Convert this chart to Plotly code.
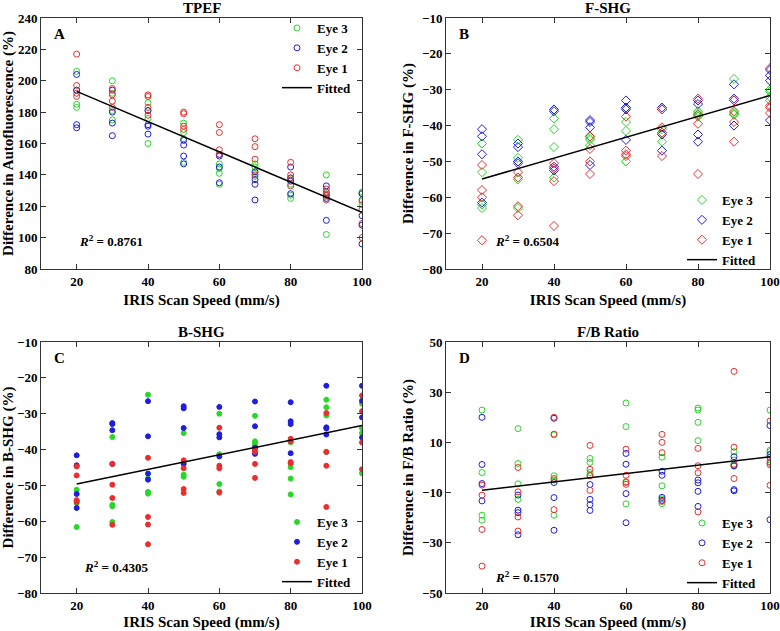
import plotly.graph_objects as go

speeds = [20, 30, 40, 50, 60, 70, 80, 90, 100]

# ---- Panel A: TPEF (values per speed, 4 per eye)
tpef_eye1 = [[217,197,192,190],[195,191,187,183],[191,190,183,178],[180,179,171,169],[172,167,156,153],
             [163,158,150,140],[148,140,133,138],[131,129,124,127],[124,118,109,100]]
tpef_eye2 = [[204,194,172,170],[194,180,173,165],[181,172,171,166],[162,159,152,147],[153,145,135,152],
             [137,134,124,142],[145,138,136,128],[133,127,111,125],[114,108,96,128]]
tpef_eye3 = [[206,185,183,194],[200,181,175,192],[186,160,181,176],[173,167,148,163],[147,141,134,144],
             [147,139,145,141],[127,125,137,134],[140,102,128,126],[129,128,121,123]]
tpef_fit = [193.2, 116.1]

# ---- Panel B: F-SHG
fshg_eye1 = [[-51,-58,-60,-72],[-53,-54.5,-62.5,-65],[-50.5,-52,-55.5,-68],[-43,-46.5,-50,-53.5],[-37.5,-47,-48,-48.5],
             [-35.5,-40.5,-42,-48.5],[-32.5,-37,-39.5,-53.5],[-33,-36,-39,-44.5],[-24,-34.5,-35,-36.5]]
fshg_eye2 = [[-41,-43,-48,-61.5],[-45,-46,-50,-50.5],[-35.5,-36,-51.5,-52.5],[-38.5,-39,-40.5,-51],[-33,-35,-44,-35.5],
             [-35,-35.5,-42.5,-47],[-33,-34,-42.5,-44.5],[-28.5,-32.5,-40,-33],[-24.5,-26,-27.5,-38.5]]
fshg_eye3 = [[-45,-53,-62,-63],[-44,-49,-55,-63],[-38,-41,-46,-54.5],[-43,-45.5,-44,-43.5],[-35,-39,-41.5,-50],
             [-35.5,-44.5,-41,-42],[-36,-36.5,-37,-37.5],[-27,-36.5,-37,-36.8],[-30,-32,-30.5,-33]]
fshg_fit = [-54.9, -31.6]

# ---- Panel C: B-SHG
bshg_eye1 = [[-44.7,-47.2,-54.1,-54.6],[-44,-49.8,-53.5,-61],[-42.3,-58.8,-60.9,-66.4],[-43,-45.2,-51,-52.1],[-33.9,-44.5,-45.2,-52],
             [-40,-40.6,-44,-47.9],[-37,-37.7,-43.5,-43.8],[-29.8,-40.7,-44.5,-56],[-24.9,-29.3,-38,-45.5]]
bshg_eye2 = [[-41.6,-44.4,-52.4,-56.3],[-32.6,-32.9,-34.6,-44],[-26.5,-36.3,-46.7,-48.4],[-27.9,-28.5,-34,-44],[-28.1,-35.7,-36.6,-41.9],
             [-26.6,-33.5,-41.2,-39.5],[-26.8,-32.1,-32.9,-41],[-22.2,-33.8,-34.1,-35.8],[-22.2,-26.4,-31,-36.6]]
bshg_eye3 = [[-51.2,-61.6,-54.4,-55],[-36.5,-55.4,-55.8,-60.2],[-24.7,-51.8,-52.3,-48],[-35.4,-47,-47.6,-43.5],[-30,-41.3,-49.6,-51.7],
             [-30.6,-37.7,-38.3,-39],[-44.9,-48.1,-52.5,-38],[-26.1,-28.2,-30.5,-40.6],[-27.2,-34,-35.4,-46.6]]
bshg_fit = [-49.6, -33.3]

# ---- Panel D: F/B Ratio
fb_eye1 = [[-7,-11,-24.7,-39.3],[0,-9.7,-19.7,-25.3],[20,13.3,-4.4,-16.8],[8.8,-0.7,-3.3,-9.1],[7.3,-3.1,-5.7,-6.7],
           [13.2,10,5.9,-13.5],[7.6,0.7,-2.1,-17.7],[38.3,8.1,1.3,-4.4],[18.5,2.3,1.6,-7.1]]
fb_eye2 = [[20,1.2,-6.4,-13.3],[-11,-17,-18,-26.8],[19.6,-6,-12,-25],[-6.8,-12.7,-14.8,-17.1],[5.6,1.3,-10.4,-22],
           [-1.5,-3.1,-11.9,-13.1],[-6.1,-9.5,-15.5,-5],[4.3,0.7,-8.8,-9.3],[16.7,5.2,-20.8,4]]
fb_eye3 = [[22.9,-2,-19,-21],[15.5,1.6,-6.5,-12.7],[13,-3.3,-19,-5],[3.6,2,-3,-2],[25.7,16.3,-14.5,-6],
           [4.1,-7.3,-14.4,-12.5],[23.7,22.9,18,10.7],[6.3,1,0.5,3],[22.9,6.9,6.3,1]]
fb_fit = [-9.1, 4.3]

fit_x = [20, 100]

titles = ["TPEF", "F-SHG", "B-SHG", "F/B Ratio"]
letters = ["A", "B", "C", "D"]
ytitles = ["Difference in Autofluorescence (%)", "Difference in F-SHG (%)",
           "Difference in B-SHG (%)", "Difference in F/B Ratio (%)"]
r2_texts = ["0.8761", "0.6504", "0.4305", "0.1570"]
yranges = [[80, 240], [-80, -10], [-80, -10], [-50, 50]]
ytickvals = [list(range(80, 241, 20)), list(range(-80, -9, 10)), list(range(-80, -9, 10)), [-50, -30, -10, 10, 30, 50]]
xtickvals = [20, 40, 60, 80, 100]

panels = [
    (tpef_eye1, tpef_eye2, tpef_eye3, tpef_fit, "circle-open"),
    (fshg_eye1, fshg_eye2, fshg_eye3, fshg_fit, "diamond-open"),
    (bshg_eye1, bshg_eye2, bshg_eye3, bshg_fit, "circle"),
    (fb_eye1, fb_eye2, fb_eye3, fb_fit, "circle-open"),
]

W, H = 780, 631
ML, MR, MT, MB = 41, 10, 18, 38
PW, PH = W - ML - MR, H - MT - MB

def px_x(p):
    return (p - ML) / PW

def px_y(p):
    return (H - MB - p) / PH

# plot-area pixel boxes: (left, right, top, bottom)
boxes = [(41, 362, 18, 269), (446, 770, 18, 269), (41, 362, 342, 593), (446, 770, 342, 593)]
legend_pos = [(356, 13), (761, 185), (356, 507), (761, 508)]
r2_pos = [(0.112, 0.11), (0.145, 0.11), (0.128, 0.104), (0.145, 0.064)]

GREEN = "rgb(40,215,40)"
BLUE = "rgb(30,30,220)"
RED = "rgb(235,45,45)"
FONT = "Liberation Serif"

fig = go.Figure()
layout = {}
annotations = []

def flat(groups):
    xs, ys = [], []
    for s, vals in zip(speeds, groups):
        for v in vals:
            xs.append(s)
            ys.append(v)
    return xs, ys

for i, (e1, e2, e3, fit, sym) in enumerate(panels):
    n = "" if i == 0 else str(i + 1)
    xa, ya = "x" + n, "y" + n
    lg = "legend" + n
    filled = sym == "circle"
    size = 5 if filled else (6 if sym == "circle-open" else 7)
    for name, data, col in [("Eye 3", e3, GREEN), ("Eye 2", e2, BLUE), ("Eye 1", e1, RED)]:
        xs, ys = flat(data)
        fig.add_trace(go.Scatter(
            x=xs, y=ys, mode="markers", name=name, xaxis=xa, yaxis=ya, legend=lg,
            marker=dict(symbol=sym, size=size, color=col, line=dict(width=1, color=col)),
        ))
    fig.add_trace(go.Scatter(
        x=fit_x, y=fit, mode="lines", name="Fitted", xaxis=xa, yaxis=ya, legend=lg,
        line=dict(color="black", width=1.5),
    ))
    l, r, t, b = boxes[i]
    xd = [max(0, px_x(l)), min(1, px_x(r))]
    yd = [max(0, px_y(b)), min(1, px_y(t))]
    axfont = dict(family=FONT, size=13, color="black", weight="bold")
    common = dict(showline=True, linecolor="#333", linewidth=1, mirror="ticks", ticks="inside",
                  ticklen=5, tickcolor="#333", showgrid=False, zeroline=False, tickfont=axfont,
                  automargin=False)
    layout["xaxis" + n] = dict(domain=xd, anchor=ya, range=[10, 100], tickvals=xtickvals,
                               title=dict(text="IRIS Scan Speed (mm/s)", standoff=6,
                                          font=dict(family=FONT, size=15, color="black", weight="bold")),
                               **common)
    layout["yaxis" + n] = dict(domain=yd, anchor=xa, range=yranges[i], tickvals=ytickvals[i],
                               title=dict(text=ytitles[i], standoff=4,
                                          font=dict(family=FONT, size=15, color="black", weight="bold")),
                               **common)
    lx, ly = legend_pos[i]
    layout[lg] = dict(x=px_x(lx), y=px_y(ly), xanchor="right", yanchor="top",
                      bgcolor="rgba(255,255,255,0)", borderwidth=0, tracegroupgap=0,
                      font=dict(family=FONT, size=13, color="black", weight="bold"))
    # subplot title
    annotations.append(dict(text="<b>" + titles[i] + "</b>", xref="paper", yref="paper",
                            x=px_x((l + r) / 2), y=px_y(t - 10), xanchor="center", yanchor="middle",
                            showarrow=False, font=dict(family=FONT, size=15, color="black")))
    # panel letter
    annotations.append(dict(text="<b>" + letters[i] + "</b>", xref=xa + " domain", yref=ya + " domain",
                            x=0.034, y=0.935, xanchor="left", yanchor="middle",
                            showarrow=False, font=dict(family=FONT, size=15, color="black")))
    rx, ry = r2_pos[i]
    annotations.append(dict(text="<b><i>R</i><sup>2</sup> = " + r2_texts[i] + "</b>",
                            xref=xa + " domain", yref=ya + " domain",
                            x=rx, y=ry, xanchor="left", yanchor="middle",
                            showarrow=False, font=dict(family=FONT, size=13, color="black")))

fig.update_layout(**layout)
fig.update_layout(
    width=W, height=H, margin=dict(l=ML, r=MR, t=MT, b=MB, autoexpand=False),
    paper_bgcolor="white", plot_bgcolor="white",
    annotations=annotations, showlegend=True,
    font=dict(family=FONT, color="black"),
)

fig.write_html("out.html", config={"displayModeBar": False},
               post_script="document.body.style.margin='0';document.body.style.padding='0';"
                           "document.body.style.overflow='hidden';")
